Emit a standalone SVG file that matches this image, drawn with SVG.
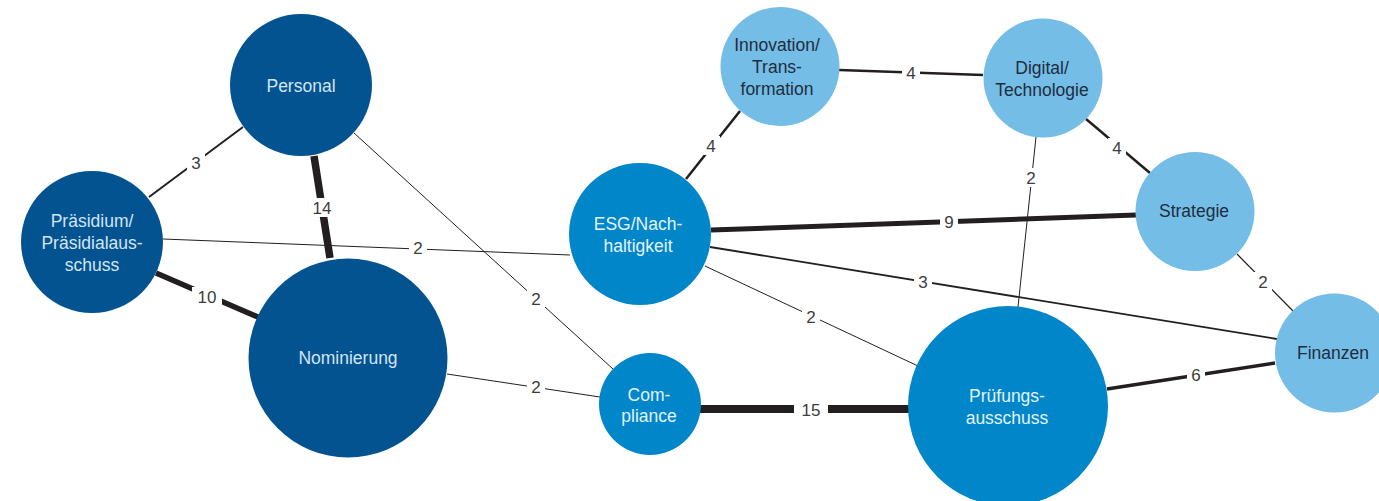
<svg xmlns="http://www.w3.org/2000/svg" width="1379" height="501" viewBox="0 0 1379 501">
<style>
.e{stroke:#231f20;fill:none;stroke-linecap:butt}
.bg{fill:#ffffff}
.lbl{font-family:"Liberation Sans",Arial,sans-serif;font-size:17px;fill:#3d3d3d;text-anchor:middle}
.t{font-family:"Liberation Sans",Arial,sans-serif;font-size:17.5px;text-anchor:middle}
.dk{fill:#035391}.md{fill:#0086c9}.lt{fill:#74bde7}
.tl{fill:#d4e4f2}.tm{fill:#e3f2fb}.td{fill:#1f2d3c}
</style>
<rect width="1379" height="501" fill="#ffffff"/>
<g id="connectors">
<line class="e" x1="149" y1="197" x2="243" y2="127" stroke-width="2"/>
<line class="e" x1="314" y1="156" x2="330" y2="258" stroke-width="7.5"/>
<line class="e" x1="156" y1="273" x2="258" y2="317" stroke-width="5.5"/>
<line class="e" x1="163" y1="239" x2="570" y2="255" stroke-width="1"/>
<line class="e" x1="354" y1="133" x2="613" y2="369" stroke-width="1"/>
<line class="e" x1="447" y1="374" x2="600" y2="397" stroke-width="1"/>
<line class="e" x1="700" y1="409" x2="911" y2="409" stroke-width="8"/>
<line class="e" x1="686" y1="179" x2="740" y2="111" stroke-width="2.5"/>
<line class="e" x1="839" y1="70" x2="983" y2="75" stroke-width="2.5"/>
<line class="e" x1="1086" y1="119" x2="1150" y2="173" stroke-width="2.5"/>
<line class="e" x1="711" y1="230" x2="1136" y2="215" stroke-width="5"/>
<line class="e" x1="710" y1="247" x2="1277" y2="339" stroke-width="1.8"/>
<line class="e" x1="705" y1="266" x2="918" y2="366" stroke-width="1"/>
<line class="e" x1="1036" y1="137" x2="1018" y2="307" stroke-width="1"/>
<line class="e" x1="1237" y1="254" x2="1293" y2="311" stroke-width="1.2"/>
<line class="e" x1="1107" y1="389" x2="1275" y2="363" stroke-width="3.5"/>
<rect class="bg" x="187" y="153" width="18" height="19"/><text class="lbl" x="196" y="169">3</text>
<rect class="bg" x="308" y="198" width="28" height="19"/><text class="lbl" x="322" y="214">14</text>
<rect class="bg" x="192" y="287" width="30" height="19"/><text class="lbl" x="207" y="303">10</text>
<rect class="bg" x="409" y="238" width="18" height="19"/><text class="lbl" x="418" y="254">2</text>
<rect class="bg" x="527" y="289" width="18" height="19"/><text class="lbl" x="536" y="305">2</text>
<rect class="bg" x="527" y="377" width="18" height="19"/><text class="lbl" x="536" y="393">2</text>
<rect class="bg" x="794" y="400" width="34" height="19"/><text class="lbl" x="811" y="416">15</text>
<rect class="bg" x="702" y="136" width="18" height="19"/><text class="lbl" x="711" y="152">4</text>
<rect class="bg" x="902" y="63" width="18" height="19"/><text class="lbl" x="911" y="79">4</text>
<rect class="bg" x="1108" y="138" width="18" height="19"/><text class="lbl" x="1117" y="154">4</text>
<rect class="bg" x="940" y="212" width="18" height="19"/><text class="lbl" x="949" y="228">9</text>
<rect class="bg" x="914" y="272" width="18" height="19"/><text class="lbl" x="923" y="288">3</text>
<rect class="bg" x="802" y="307" width="18" height="19"/><text class="lbl" x="811" y="323">2</text>
<rect class="bg" x="1022" y="168" width="18" height="19"/><text class="lbl" x="1031" y="184">2</text>
<rect class="bg" x="1254" y="272" width="18" height="19"/><text class="lbl" x="1263" y="288">2</text>
<rect class="bg" x="1187" y="365" width="18" height="19"/><text class="lbl" x="1196" y="381">6</text>
</g>
<g id="node-personal"><circle class="dk" cx="301" cy="85" r="71"/><text class="t tl" x="301" y="92">Personal</text></g>
<g id="node-praesidium"><circle class="dk" cx="92" cy="242" r="71"/><text class="t tl" x="92" y="227">Präsidium/</text><text class="t tl" x="92" y="249">Präsidialaus-</text><text class="t tl" x="92" y="271">schuss</text></g>
<g id="node-nominierung"><circle class="dk" cx="348" cy="358" r="99.5"/><text class="t tl" x="348" y="364">Nominierung</text></g>
<g id="node-innovation"><circle class="lt" cx="780" cy="66.5" r="59.5"/><text class="t td" x="777" y="51">Innovation/</text><text class="t td" x="777" y="73">Trans-</text><text class="t td" x="777" y="95">formation</text></g>
<g id="node-esg"><circle class="md" cx="640" cy="234" r="71"/><text class="t tm" x="638" y="230">ESG/Nach-</text><text class="t tm" x="638" y="252">haltigkeit</text></g>
<g id="node-compliance"><circle class="md" cx="650" cy="404" r="51"/><text class="t tm" x="649" y="401">Com-</text><text class="t tm" x="649" y="422">pliance</text></g>
<g id="node-digital"><circle class="lt" cx="1043" cy="78" r="59.5"/><text class="t td" x="1042" y="74">Digital/</text><text class="t td" x="1042" y="96">Technologie</text></g>
<g id="node-strategie"><circle class="lt" cx="1195" cy="211.5" r="59.5"/><text class="t td" x="1194" y="217">Strategie</text></g>
<g id="node-pruefung"><circle class="md" cx="1008" cy="406" r="100"/><text class="t tm" x="1007" y="402">Prüfungs-</text><text class="t tm" x="1007" y="424">ausschuss</text></g>
<g id="node-finanzen"><circle class="lt" cx="1334.5" cy="353" r="59.5"/><text class="t td" x="1333" y="359">Finanzen</text></g>
</svg>
